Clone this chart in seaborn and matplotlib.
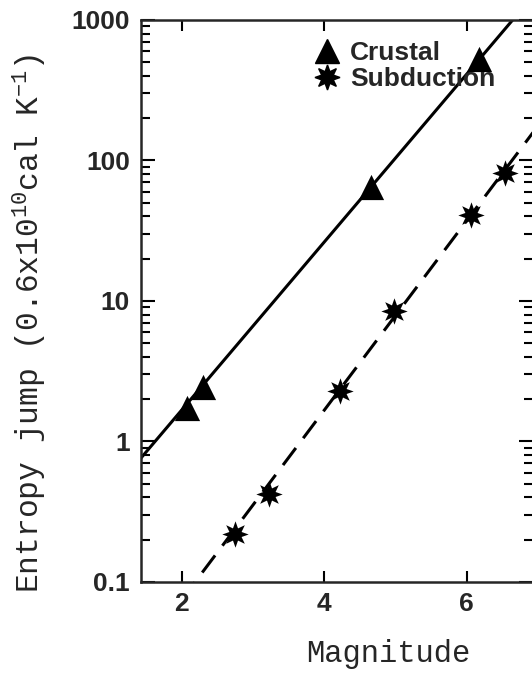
import numpy as np
import pandas as pd
import matplotlib
matplotlib.use("Agg")
import matplotlib.pyplot as plt
import seaborn as sns
from matplotlib.lines import Line2D
from matplotlib.ticker import LogLocator, NullFormatter

# Measured entropy jumps versus earthquake magnitude
crustal_mag = [2.07, 2.30, 4.65, 6.17]
crustal_entropy = [1.72, 2.45, 65.0, 530.0]

subduction_mag = [2.75, 3.23, 4.22, 4.98, 6.06, 6.53]
subduction_entropy = [0.22, 0.42, 2.3, 8.5, 41.0, 82.0]

# Straight-line fits in log10(entropy) = intercept + slope * magnitude
crustal_slope, crustal_intercept = 0.598, -0.973
subduction_slope, subduction_intercept = 0.675, -2.478

x_ticks = [2, 4, 6]
x_tick_labels = ["2", "4", "6"]
y_ticks = [0.1, 1, 10, 100, 1000]
y_tick_labels = ["0.1", "1", "10", "100", "1000"]

df = pd.DataFrame({
    "Magnitude": crustal_mag + subduction_mag,
    "Entropy": crustal_entropy + subduction_entropy,
    "Type": ["Crustal"] * len(crustal_mag) + ["Subduction"] * len(subduction_mag),
})

sns.set_theme(style="ticks")
plt.rcParams.update({
    "font.family": ["Liberation Sans", "DejaVu Sans"],
    "mathtext.fontset": "custom",
    "mathtext.rm": "Liberation Mono",
    "mathtext.it": "Liberation Mono",
    "mathtext.tt": "Liberation Mono",
    "axes.linewidth": 1.8,
})

fig = plt.figure(figsize=(5.32, 6.79), dpi=100)
ax = fig.add_axes([0.265, 0.1429, 0.737, 0.8277])

fit_mag = np.linspace(1.0, 7.5, 100)
sns.lineplot(x=fit_mag, y=10 ** (crustal_intercept + crustal_slope * fit_mag),
             ax=ax, color="black", linewidth=2.2)
sns.lineplot(x=fit_mag, y=10 ** (subduction_intercept + subduction_slope * fit_mag),
             ax=ax, color="black", linewidth=2.2, linestyle=(0, (7, 4)))

sns.scatterplot(data=df[df["Type"] == "Crustal"], x="Magnitude", y="Entropy",
                marker="^", color="black", s=330, linewidth=0, ax=ax,
                legend=False, zorder=3)
sns.scatterplot(data=df[df["Type"] == "Subduction"], x="Magnitude", y="Entropy",
                marker=(8, 1, 0), color="black", s=360, linewidth=0, ax=ax,
                legend=False, zorder=3)

ax.set_yscale("log")
ax.set_xlim(1.43, 6.93)
ax.set_ylim(0.1, 1000)

ax.set_xticks(x_ticks, labels=x_tick_labels)
ax.set_yticks(y_ticks, labels=y_tick_labels)
ax.yaxis.set_minor_locator(LogLocator(base=10, subs=np.arange(2, 10)))
ax.yaxis.set_minor_formatter(NullFormatter())

ax.tick_params(axis="both", which="both", direction="in", top=True, right=True,
               width=1.5, color="black")
ax.tick_params(axis="y", which="major", length=10, pad=8)
ax.tick_params(axis="y", which="minor", length=6.5)
ax.tick_params(axis="x", which="major", length=8, pad=7)
for lbl in ax.get_xticklabels() + ax.get_yticklabels():
    lbl.set_fontsize(19)
    lbl.set_fontweight("bold")

ax.set_xlabel("Magnitude", fontfamily="Liberation Mono", fontsize=22)
ax.set_ylabel(r"Entropy jump (0.6x10$^{10}$cal K$^{-1}$)",
              fontfamily="Liberation Mono", fontsize=22.5)
ax.xaxis.set_label_coords(0.631, -0.102)
ax.yaxis.set_label_coords(-0.235, 0.46)

# Legend built from the two marker styles
handles = [
    Line2D([], [], linestyle="none", marker="^", color="black", markersize=17),
    Line2D([], [], linestyle="none", marker=(8, 1, 0), color="black", markersize=18),
]
ax.legend(handles, ["Crustal", "Subduction"], loc="upper left",
          bbox_to_anchor=(0.448, 0.963), frameon=False, borderpad=0,
          borderaxespad=0, handlelength=0.8, handletextpad=0.47,
          labelspacing=0.1,
          prop={"weight": "bold", "size": 19, "family": "Liberation Sans"})

fig.savefig("out.png", dpi=100)
